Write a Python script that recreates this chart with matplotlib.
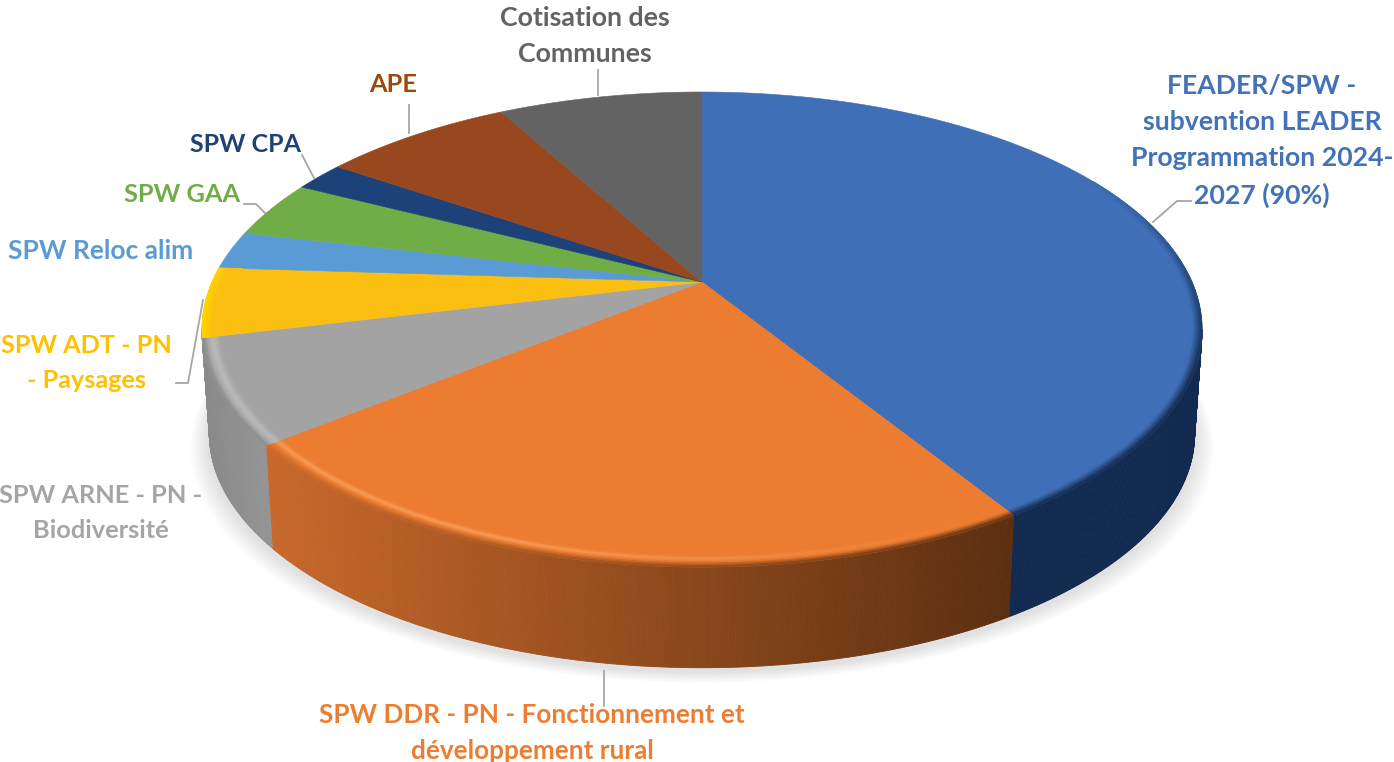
import numpy as np
import matplotlib
matplotlib.use("Agg")
import matplotlib.pyplot as plt
from matplotlib.collections import PolyCollection
from matplotlib.colors import to_rgb

plt.rcParams['font.family'] = ['Lato', 'DejaVu Sans']

# shares, clockwise from the top
categories = ["FEADER/SPW -\nsubvention LEADER\nProgrammation 2024-\n2027 (90%)",
              "SPW DDR - PN - Fonctionnement et\ndéveloppement rural",
              "SPW ARNE - PN -\nBiodiversité",
              "SPW ADT - PN\n- Paysages",
              "SPW Reloc alim",
              "SPW GAA",
              "SPW CPA",
              "APE",
              "Cotisation des\nCommunes"]
shares = [41.15, 23.05, 7.05, 4.75, 2.6, 3.9, 2.0, 7.5, 8.0]

top_colors = ['#3f6fb6', '#ec7c30', '#a3a3a3', '#fbbf12', '#5b9bd5', '#70ad47', '#1d4179', '#99471f', '#636363']
text_colors = ['#4472b8', '#ed7d31', '#a5a5a5', '#ffc000', '#5b9bd5', '#70ad47', '#1f4178', '#9e480e', '#636363']

# pixel layout of the pie
cx, cy = 702, 282
rx, ry = 490, 228
persp = 0.2
depth, base_scale = 105, 0.985


def project(t, r=1.0, bottom=False):
    # t in degrees, clockwise from the top of the disc
    t = np.radians(t)
    u, v = r * np.sin(t), r * np.cos(t)
    d = 1 + persp * v
    if bottom:
        return cx + base_scale * rx * u / d, cy + depth - base_scale * ry * v / d
    return cx + rx * u / d, cy - ry * v / d


def mix(c1, c2, f):
    c1, c2 = np.array(to_rgb(c1)), np.array(to_rgb(c2))
    return tuple(c1 + (c2 - c1) * np.clip(f, 0, 1))


fig = plt.figure(figsize=(13.94, 7.62), dpi=100)
ax = fig.add_axes([0, 0, 1, 1])
ax.set_xlim(0, 1394)
ax.set_ylim(762, 0)
ax.axis('off')

edges = np.concatenate([[0], np.cumsum(shares)])
edges = edges / edges[-1] * 360

# soft shadow under the base
ts = np.linspace(0, 360, 361)
for grow in np.linspace(20, 2, 10):
    x, y = project(ts, bottom=True)
    x = cx + (x - cx) * (1 + grow / 520)
    y = y + 4 + grow * 0.55
    ax.fill(x, y, color='black', alpha=0.012, lw=0, zorder=1)

# side wall, front half only
wall_start, wall_end = 101.5, 258.5
for i in range(len(shares)):
    a, b = max(edges[i], wall_start), min(edges[i + 1], wall_end)
    if b <= a:
        continue
    t = np.linspace(a, b, int((b - a) * 3) + 2)
    polys, cols = [], []
    for t0, t1 in zip(t[:-1], t[1:]):
        x0, y0 = project(t0)
        x1, y1 = project(t1)
        x2, y2 = project(t1, bottom=True)
        x3, y3 = project(t0, bottom=True)
        polys.append([(x0, y0), (x1, y1), (x2, y2), (x3, y3)])
        if i == 0:
            cols.append('#132a50')
        elif i == 1:
            f = (x0 - 268) / (1012 - 268)
            cols.append(mix('#c8682b', '#5c2f10', f))
        else:
            cols.append(mix('#8a8a8a', '#969696', (x0 - 205) / 70))
    ax.add_collection(PolyCollection(polys, facecolors=cols, edgecolors=cols, linewidths=0.6, zorder=2))

# top faces
for i in range(len(shares)):
    t = np.linspace(edges[i], edges[i + 1], int(shares[i] * 12) + 2)
    x, y = project(t)
    ax.fill(np.r_[cx, x], np.r_[cy, y], color=top_colors[i], lw=0.4, zorder=3)

# bevel along the rim
for i in range(4):
    t = np.linspace(edges[i], edges[i + 1], int(shares[i] * 8) + 2)
    polys, cols = [], []
    radii = np.linspace(0.95, 1.0, 14)
    for r0, r1 in zip(radii[:-1], radii[1:]):
        for t0, t1 in zip(t[:-1], t[1:]):
            if t1 < wall_start - 40:
                continue
            x0, y0 = project(t0, r0)
            x1, y1 = project(t1, r0)
            x2, y2 = project(t1, r1)
            x3, y3 = project(t0, r1)
            rm = (r0 + r1) / 2
            tm = (t0 + t1) / 2
            if i == 0:
                f = np.clip((rm - 0.982) / 0.018, 0, 1) * np.clip((tm - 60) / 50, 0, 1)
                c = mix(top_colors[0], '#132a50', f)
            elif i == 1:
                glow = np.exp(-((rm - 0.977) / 0.006) ** 2) * np.clip((tm - 150) / 50, 0, 1)
                dark = np.clip((rm - 0.985) / 0.015, 0, 1)
                xm = project(tm)[0]
                c = mix(mix(top_colors[1], '#f79a55', glow), mix('#c8682b', '#5c2f10', (xm - 268) / 744), dark)
            elif i == 2:
                glow = np.exp(-((rm - 0.98) / 0.009) ** 2)
                dark = np.clip((rm - 0.99) / 0.01, 0, 1)
                c = mix(mix(top_colors[2], '#b9b9b9', glow), '#8a8a8a', dark)
            else:
                c = mix(top_colors[3], '#ffd400', np.clip((rm - 0.98) / 0.02, 0, 1))
            polys.append([(x0, y0), (x1, y1), (x2, y2), (x3, y3)])
            cols.append(c)
    if polys:
        ax.add_collection(PolyCollection(polys, facecolors=cols, edgecolors=cols, linewidths=0.5, zorder=4))

# leader lines
leaders = [
    [(1153, 222), (1177, 201), (1191, 201)],
    [(604, 671), (604, 706)],
    [(176, 383), (188, 383), (203, 300)],
    [(244, 204), (256, 204), (265, 213)],
    [(302, 155), (314, 178)],
    [(409, 105), (409, 133)],
    [(598, 70), (598, 95)],
]
for pts in leaders:
    xs, ys = zip(*pts)
    ax.plot(xs, ys, color='#a6a6a6', lw=1.3, zorder=5, solid_joinstyle='miter')

# label centres and sizes
label_x = [1262, 532, 101, 86, 101, 182, 245, 393, 585]
label_y = [141, 733, 513, 363, 251, 194, 145, 85, 36]
label_size = [19.2, 18.8, 18.3, 18.2, 19.0, 18.3, 18.0, 18.3, 19.3]
for i, name in enumerate(categories):
    ax.text(label_x[i], label_y[i], name, color=text_colors[i], fontsize=label_size[i], fontweight='bold',
            ha='center', va='center', linespacing=1.6, zorder=6)

fig.savefig('out.png', dpi=100)
